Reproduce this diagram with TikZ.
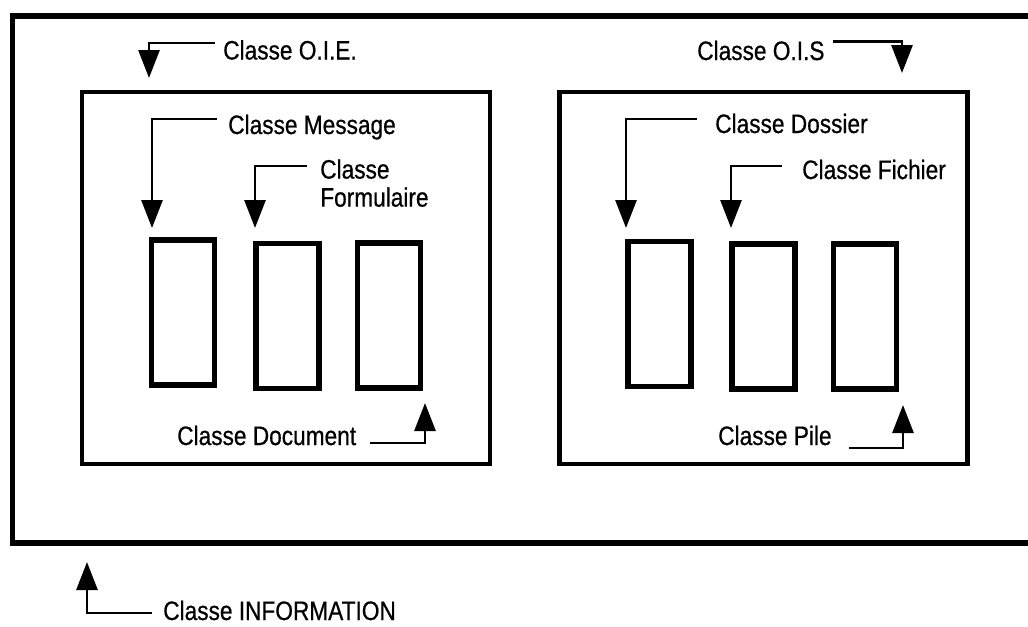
\documentclass[tikz,border=0pt]{standalone}
\usepackage{fontspec}
\setmainfont{Liberation Sans}[FakeStretch=0.85,FakeBold=0.6]
\usetikzlibrary{arrows.meta}

\begin{document}
\begin{tikzpicture}[x=0.75pt,y=-0.75pt,
  lbl/.style={anchor=base west, inner sep=0pt, font=\fontsize{20pt}{21pt}\selectfont},
  cls/.style={draw, line width=3.7pt, inner sep=0pt, minimum width=306pt, minimum height=279pt},
  slot/.style={draw, line width=4pt, inner sep=0pt, minimum width=47.25pt, minimum height=108.75pt},
  ptr/.style={line width=2.1pt, -{Triangle[length=21pt,width=15.75pt]}}]

\useasboundingbox (0,0) rectangle (1028,626);
\fill[white] (0,0) rectangle (1028,626);

% Classe INFORMATION: the enclosing frame, open past the right edge
\draw[line width=4pt] (1045,16) -- (12.5,16) -- (12.5,543) -- (1045,543);

% the two subclasses
\node[cls] (oie) at (286,278) {};
\node[cls] (ois) at (763.5,278) {};

% their members
\node[slot] (msg)  at (183,312.5) {};
\node[slot] (form) at (287.5,316) {};
\node[slot] (doc)  at (389,315.5) {};
\node[slot] (dos)  at (659.5,314) {};
\node[slot] (fic)  at (763.5,316.5) {};
\node[slot] (pile) at (865,316.5) {};

% labels
\node[lbl] (tOIE)  at (223,59.5) {Classe O.I.E.};
\node[lbl] (tOIS)  at (697,60)   {Classe O.I.S};
\node[lbl] (tMsg)  at (228,134)  {Classe Message};
\node[lbl, align=left, anchor=north west] (tForm) at (320,159) {Classe\\Formulaire};
\node[lbl] (tDos)  at (715,133)  {Classe Dossier};
\node[lbl] (tFic)  at (802,179)  {Classe Fichier};
\node[lbl] (tDoc)  at (177,445)  {Classe Document};
\node[lbl] (tPile) at (718,445)  {Classe Pile};
\node[lbl] (tInfo) at (163,620)  {Classe INFORMATION};

% pointer ends
\coordinate (sOIE)  at (215,43);   \coordinate (eOIE)  at (149,78);
\coordinate (sOIS)  at (833,41.5); \coordinate (eOIS)  at (902,73);
\coordinate (sMsg)  at (217,119);  \coordinate (eMsg)  at (152,228);
\coordinate (sForm) at (307,166);  \coordinate (eForm) at (255,228);
\coordinate (sDos)  at (697,119);  \coordinate (eDos)  at (626,228);
\coordinate (sFic)  at (782,166);  \coordinate (eFic)  at (731,228);
\coordinate (sDoc)  at (370,443);  \coordinate (eDoc)  at (425,403);
\coordinate (sPile) at (849,448);  \coordinate (ePile) at (903,405);
\coordinate (sInfo) at (152,613);  \coordinate (eInfo) at (87,562);

% pointers
\draw[ptr] (sOIE)  -| (eOIE);
\draw[ptr] (sOIS)  -| (eOIS);
\draw[ptr] (sMsg)  -| (eMsg);
\draw[ptr] (sForm) -| (eForm);
\draw[ptr] (sDos)  -| (eDos);
\draw[ptr] (sFic)  -| (eFic);
\draw[ptr] (sDoc)  -| (eDoc);
\draw[ptr] (sPile) -| (ePile);
\draw[ptr] (sInfo) -| (eInfo);
\end{tikzpicture}
\end{document}
